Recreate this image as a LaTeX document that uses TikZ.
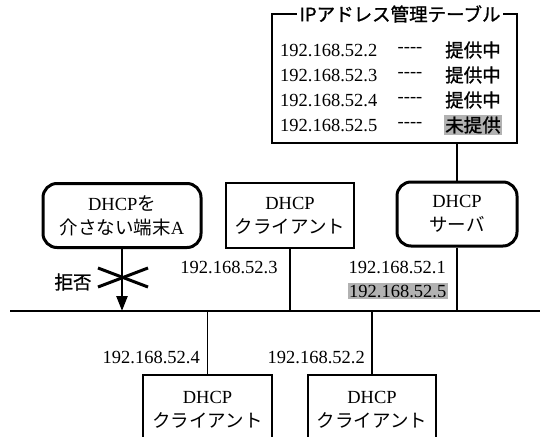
\documentclass[tikz,border=0pt]{standalone}
\usepackage{fontspec}
\setmainfont{Liberation Serif}
\newfontfamily\jpf{Noto Sans CJK JP}
\newfontfamily\jpm[FakeBold=1.2]{Noto Sans CJK JP}
\usetikzlibrary{arrows.meta}
\tikzset{
  every node/.style={font=\fontsize{18.5}{24}\selectfont, inner sep=1pt},
  plainbox/.style={draw, line width=1.3pt, align=center},
  roundbox/.style={draw, line width=3pt, rounded corners=14pt, align=center},
  wire/.style={line width=1.4pt},
  hl/.style={fill=black!30, inner sep=1.5pt},
}
\newcommand{\fourdash}{-{}-{}-{}-}
\begin{document}
\begin{tikzpicture}[x=1pt,y=-1pt]
\useasboundingbox (0,0) rectangle (540,436);
\clip (0,0) rectangle (540,436);
% management table
\node[draw, line width=2pt, minimum width=245pt, minimum height=129pt] (tbl) at (394.5,78.5) {};
\node[fill=white, inner xsep=2pt] (ttl) at (400,14) {\jpm IPアドレス管理テーブル};
\node[anchor=west] (r1) at (279,50) {192.168.52.2};
\node[anchor=west] (r2) at (279,75) {192.168.52.3};
\node[anchor=west] (r3) at (279,100) {192.168.52.4};
\node[anchor=west] (r4) at (279,125) {192.168.52.5};
\node (d1) at (410,50) {\fourdash};
\node (d2) at (410,75) {\fourdash};
\node (d3) at (410,100) {\fourdash};
\node (d4) at (410,125) {\fourdash};
\node (s1) at (473,50) {\jpm 提供中};
\node (s2) at (473,75) {\jpm 提供中};
\node (s3) at (473,100) {\jpm 提供中};
\node[hl] (s4) at (473,125) {\jpm 未提供};
% upper nodes
\node[roundbox, minimum width=120pt, minimum height=64pt] (srv) at (457,214) {DHCP\\{\jpf サーバ}};
\node[roundbox, minimum width=158pt, minimum height=64pt] (termA) at (122,215.5) {DHCP{\jpf を}\\{\jpf 介さない端末}A};
\node[plainbox, minimum width=128pt, minimum height=65pt] (c3) at (290,215.5) {DHCP\\{\jpf クライアント}};
% lower nodes
\node[plainbox, minimum width=129pt, minimum height=70pt] (c4) at (207.5,410) {DHCP\\{\jpf クライアント}};
\node[plainbox, minimum width=128pt, minimum height=70pt] (c2) at (372,410) {DHCP\\{\jpf クライアント}};
% network
\coordinate (netL) at (10,311);
\coordinate (netR) at (540,311);
\draw[line width=2.6pt] (netL) -- (netR);
\draw[wire] (tbl.south -| srv.north) -- (srv.north);
\draw[wire] (srv.south) -- (srv.south |- netL);
\draw[wire] (c3.south) -- (c3.south |- netL);
\draw[wire] (c4.north |- netL) -- (c4.north);
\draw[wire] (c2.north |- netL) -- (c2.north);
% refused arrow
\coordinate (arrEnd) at (termA.south |- netL);
\draw[line width=2.6pt, -{Triangle[length=15pt,width=11pt]}] (termA.south) -- (arrEnd);
\coordinate (xc) at (123,277.5);
\draw[line width=3pt] ([shift={(-25,-9.5)}]xc) -- ([shift={(25,9.5)}]xc);
\draw[line width=3pt] ([shift={(-25,9.5)}]xc) -- ([shift={(25,-9.5)}]xc);
\node (kyohi) at (73,282) {\jpm 拒否};
% addresses
\node (a3) at (229,267) {192.168.52.3};
\node[anchor=east] (a1) at (447,267) {192.168.52.1};
\node[hl, anchor=east] (a5) at (448,291) {192.168.52.5};
\node[anchor=east] (a4) at (201,357) {192.168.52.4};
\node[anchor=east] (a2) at (366,357) {192.168.52.2};
\end{tikzpicture}
\end{document}
